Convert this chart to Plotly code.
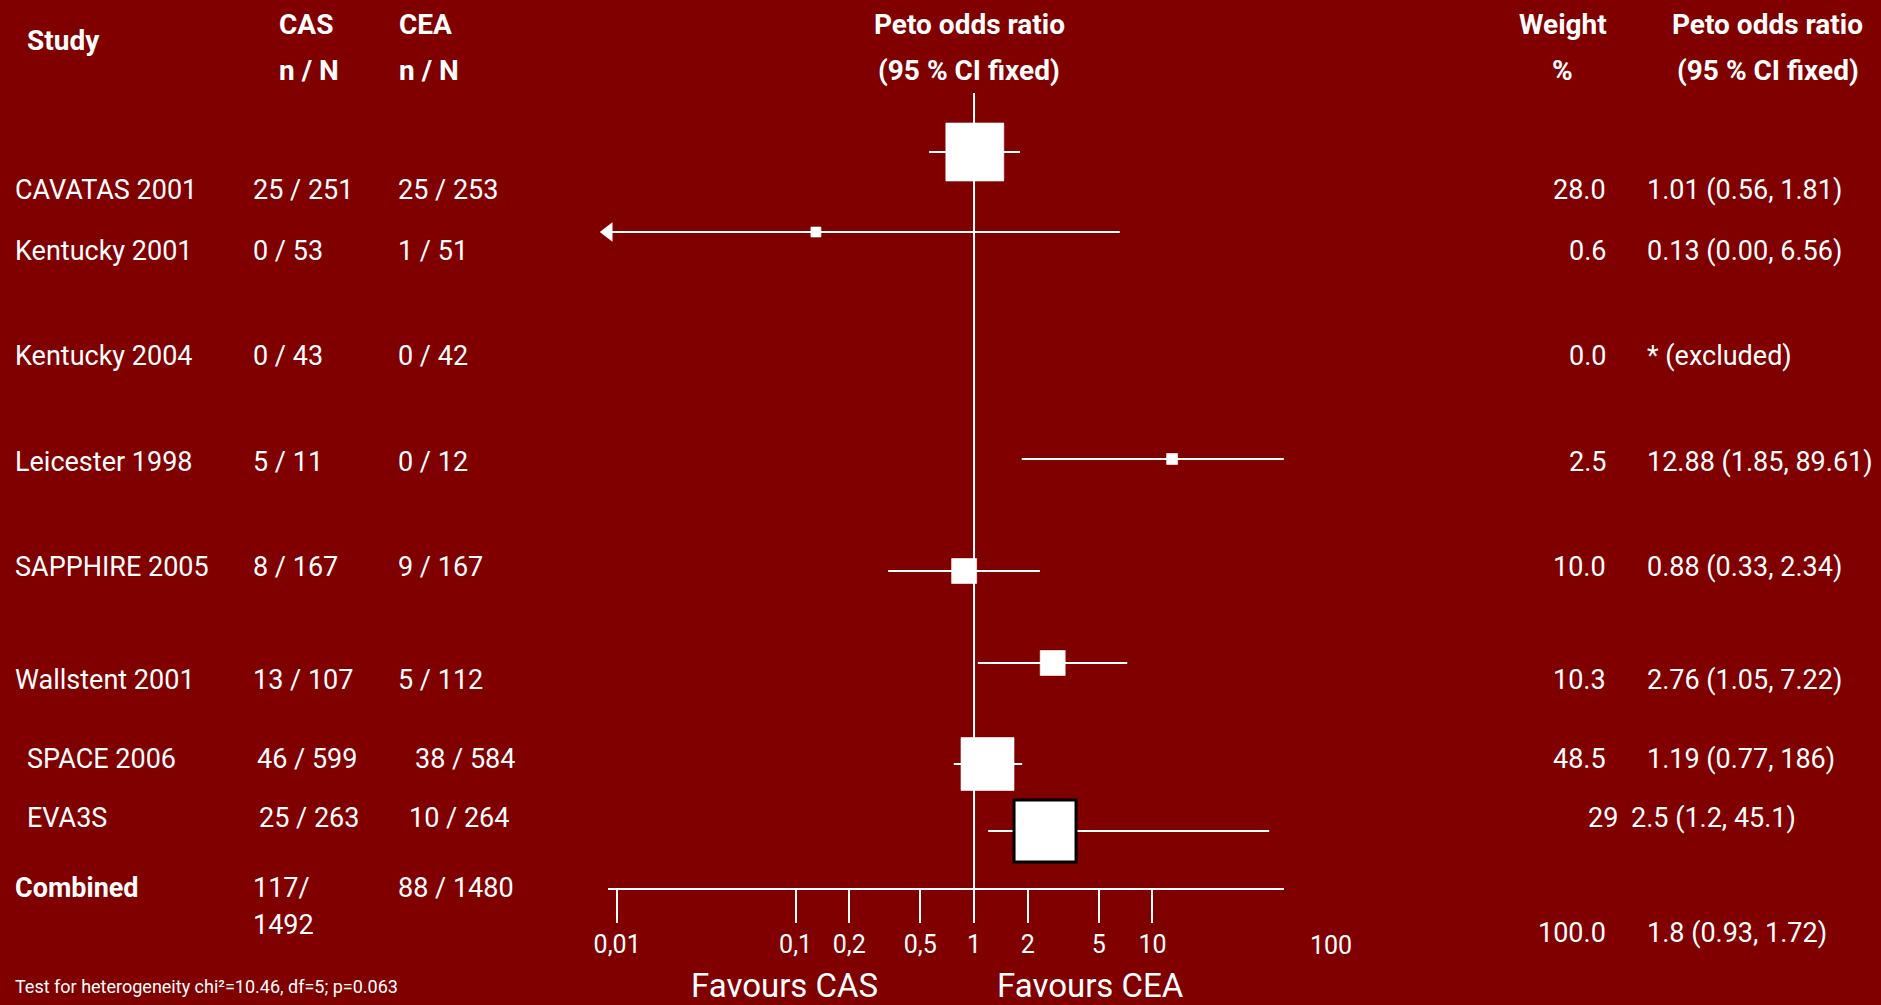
import math
import plotly.graph_objects as go

# ---- data -------------------------------------------------------------
studies = ["CAVATAS 2001", "Kentucky 2001", "Kentucky 2004", "Leicester 1998",
           "SAPPHIRE 2005", "Wallstent 2001", "SPACE 2006", "EVA3S"]
cas_events = [25, 0, 0, 5, 8, 13, 46, 25]
cas_total = [251, 53, 43, 11, 167, 107, 599, 263]
cea_events = [25, 1, 0, 0, 9, 5, 38, 10]
cea_total = [253, 51, 42, 12, 167, 112, 584, 264]
weight_pct = ["28.0", "0.6", "0.0", "2.5", "10.0", "10.3", "48.5", "29"]
peto_or = [1.01, 0.13, None, 12.88, 0.88, 2.76, 1.19, 2.5]
ci_low = [0.56, 0.00, None, 1.85, 0.33, 1.05, 0.77, 1.2]
ci_high = [1.81, 6.56, None, 89.61, 2.34, 7.22, 1.86, 45.1]
or_text = ["1.01 (0.56, 1.81)", "0.13 (0.00, 6.56)", "* (excluded)",
           "12.88 (1.85, 89.61)", "0.88 (0.33, 2.34)", "2.76 (1.05, 7.22)",
           "1.19 (0.77, 186)", "2.5 (1.2, 45.1)"]

combined_cas = ("117/", "1492")
combined_cea = "88 / 1480"
combined_weight = "100.0"
combined_or_text = "1.8 (0.93, 1.72)"
heterogeneity = "Test for heterogeneity chi²=10.46, df=5; p=0.063"

tick_values = [0.01, 0.1, 0.2, 0.5, 1, 2, 5, 10]
tick_labels = ["0,01", "0,1", "0,2", "0,5", "1", "2", "5", "10"]
outer_tick = (100, "100")

# ---- layout / style ---------------------------------------------------
W, H = 1881, 1005
BG = "#800000"
FG = "white"
FONT = "Roboto, Liberation Sans, sans-serif"

X_RANGE = [-2.05, 1.736]          # log10 range of the odds-ratio axis
X_DOMAIN = [598 / W, 1279 / W]
AXIS_Y = 889                       # vertical position of the axis line

# row placement (top-down)
text_y = [190, 251, 356, 462, 567, 680, 759, 818]
mark_y = [152, 232, None, 459, 571, 663, 764, 831]
name_x = [0, 0, 0, 0, 0, 0, 12, 12]
cas_x = [240, 240, 240, 240, 240, 240, 244, 246]
cea_x = [386, 386, 386, 386, 386, 386, 403, 397]
weight_x = [1604, 1604, 1604, 1604, 1604, 1604, 1604, 1616]
ortext_x = [1645, 1645, 1645, 1645, 1645, 1645, 1645, 1629]
box_px = [58, 10, 0, 11, 25, 25, 53, 62]
box_edge = ["rgba(255,255,255,0.6)"] * 7 + ["black"]
box_edge_w = [1, 1, 1, 1, 1, 1, 1, 3]

fig = go.Figure()

# reference line at OR = 1
fig.add_trace(go.Scatter(x=[1, 1], y=[93, AXIS_Y], mode="lines",
                         line=dict(color=FG, width=2), hoverinfo="skip"))

# confidence intervals
left_edge = 10 ** X_RANGE[0]
for i, name in enumerate(studies):
    if peto_or[i] is None:
        continue
    lo = ci_low[i] if ci_low[i] > 0 else left_edge
    fig.add_trace(go.Scatter(x=[lo, ci_high[i]], y=[mark_y[i], mark_y[i]],
                             mode="lines", line=dict(color=FG, width=2),
                             name=name, hoverinfo="skip"))
    if ci_low[i] <= 0:
        # interval runs off the left end of the scale
        fig.add_trace(go.Scatter(x=[lo], y=[mark_y[i]], mode="markers",
                                 marker=dict(symbol="triangle-left", size=17,
                                             color=FG, opacity=1),
                                 cliponaxis=False, hoverinfo="skip"))

# point estimates
idx = [i for i in range(len(studies)) if peto_or[i] is not None]
fig.add_trace(go.Scatter(
    x=[peto_or[i] for i in idx], y=[mark_y[i] for i in idx],
    mode="markers", cliponaxis=False,
    marker=dict(symbol="square", color=FG, opacity=1,
                size=[box_px[i] for i in idx],
                line=dict(color=[box_edge[i] for i in idx],
                          width=[box_edge_w[i] for i in idx])),
    text=[studies[i] for i in idx], hoverinfo="text"))

annotations = []


def label(text, px, py, anchor="left", size=27, bold=False, color=FG):
    annotations.append(dict(
        text=f"<b>{text}</b>" if bold else text,
        x=px / W, xref="paper", y=py, yref="y",
        xanchor=anchor, yanchor="middle", showarrow=False,
        borderpad=0, borderwidth=0,
        font=dict(family=FONT, size=size, color=color)))


# column headers
HS = 28
label("Study", 12, 40, bold=True, size=HS)
label("CAS", 266, 24, bold=True, size=HS)
label("n / N", 266, 70, bold=True, size=HS)
label("CEA", 387, 24, bold=True, size=HS)
label("n / N", 387, 70, bold=True, size=HS)
label("Peto odds ratio", 962, 24, anchor="center", bold=True, size=HS)
label("(95 % CI fixed)", 962, 70, anchor="center", bold=True, size=HS)
label("Weight", 1560, 24, anchor="center", bold=True, size=HS)
label("%", 1560, 70, anchor="center", bold=True, size=HS)
label("Peto odds ratio", 1767, 24, anchor="center", bold=True, size=HS)
label("(95 % CI fixed)", 1767, 70, anchor="center", bold=True, size=HS)

# study rows
for i, name in enumerate(studies):
    y = text_y[i]
    label(name, name_x[i], y)
    label(f"{cas_events[i]} / {cas_total[i]}", cas_x[i], y)
    label(f"{cea_events[i]} / {cea_total[i]}", cea_x[i], y)
    label(weight_pct[i], weight_x[i], y, anchor="right")
    label(or_text[i], ortext_x[i], y)

# combined row
label("Combined", 0, 888, bold=True)
label(combined_cas[0], 240, 888)
label(combined_cas[1], 240, 925)
label(combined_cea, 386, 888)
label(combined_weight, 1604, 933, anchor="right")
label(combined_or_text, 1645, 933)

label(heterogeneity, 0, 986, size=18)
label("Favours CAS", 776, 985, anchor="center", size=33)
label("Favours CEA", 1084, 985, anchor="center", size=33)

# last scale label sits past the end of the axis line; place it on the
# same log scale, expressed as a paper fraction
frac = (math.log10(outer_tick[0]) - X_RANGE[0]) / (X_RANGE[1] - X_RANGE[0])
outer_x = X_DOMAIN[0] + frac * (X_DOMAIN[1] - X_DOMAIN[0])
annotations.append(dict(text=outer_tick[1], x=outer_x, xref="paper",
                        y=945, yref="y", xanchor="center", yanchor="middle",
                        showarrow=False, borderpad=0,
                        font=dict(family=FONT, size=25, color=FG)))

fig.update_layout(
    width=W, height=H, autosize=False,
    margin=dict(l=0, r=0, t=0, b=0),
    paper_bgcolor=BG, plot_bgcolor=BG,
    showlegend=False,
    annotations=annotations,
    xaxis=dict(type="log", range=X_RANGE, domain=X_DOMAIN,
               anchor="free", position=1 - AXIS_Y / H,
               showline=True, linecolor=FG, linewidth=2,
               ticks="outside", ticklen=33, tickwidth=2, tickcolor=FG,
               tickvals=tick_values, ticktext=tick_labels,
               tickfont=dict(family=FONT, size=25, color=FG),
               showgrid=False, zeroline=False, fixedrange=True),
    yaxis=dict(range=[H, 0], domain=[0, 1], visible=False,
               showgrid=False, zeroline=False, fixedrange=True),
)

fig.write_html("out.html")
